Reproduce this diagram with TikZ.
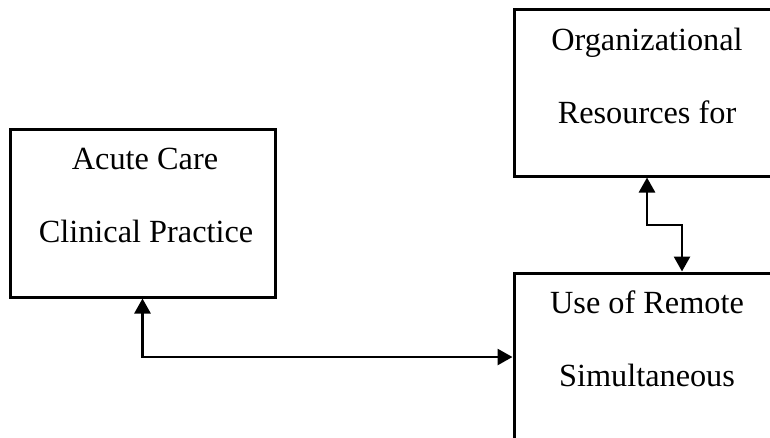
\documentclass[tikz,border=0pt]{standalone}
\usepackage{fontspec}
\setmainfont{Liberation Serif}
\usetikzlibrary{arrows.meta}
\begin{document}
\begin{tikzpicture}[x=1pt,y=-1pt,
  box/.style={draw=black,line width=3pt,fill=none,inner sep=0pt},
  lbl/.style={anchor=base,inner sep=0pt,font=\fontsize{32.3}{38}\selectfont},
  link/.style={line width=2.7pt,{Triangle[width=16pt,length=15pt]}-{Triangle[width=16pt,length=15pt]}}]
\useasboundingbox (0,0) rectangle (770,437);
\clip (0,0) rectangle (770,437);
% boxes
\node[box,minimum width=265pt,minimum height=168pt] (lbox) at (142.5,213) {};
\node[box,minimum width=266pt,minimum height=167pt] (tbox) at (647,92.5) {};
\node[box,minimum width=286pt,minimum height=227pt] (bbox) at (657,386.5) {};
% texts
\node[lbl] (l1) at (145,169) {Acute Care};
\node[lbl] (l2) at (146,242) {Clinical Practice};
\node[lbl] (t1) at (647,50) {Organizational};
\node[lbl] (t2) at (647,123) {Resources for};
\node[lbl] (b1) at (647,313) {Use of Remote};
\node[lbl] (b2) at (647,386) {Simultaneous};
% connectors
\coordinate (j1) at (142.5,357);
\coordinate (k) at (682,225);
\draw[link] (lbox.south) |- (bbox.west |- j1);
\draw[link] (tbox.south) |- (k) -- (k |- bbox.north);
\end{tikzpicture}
\end{document}
